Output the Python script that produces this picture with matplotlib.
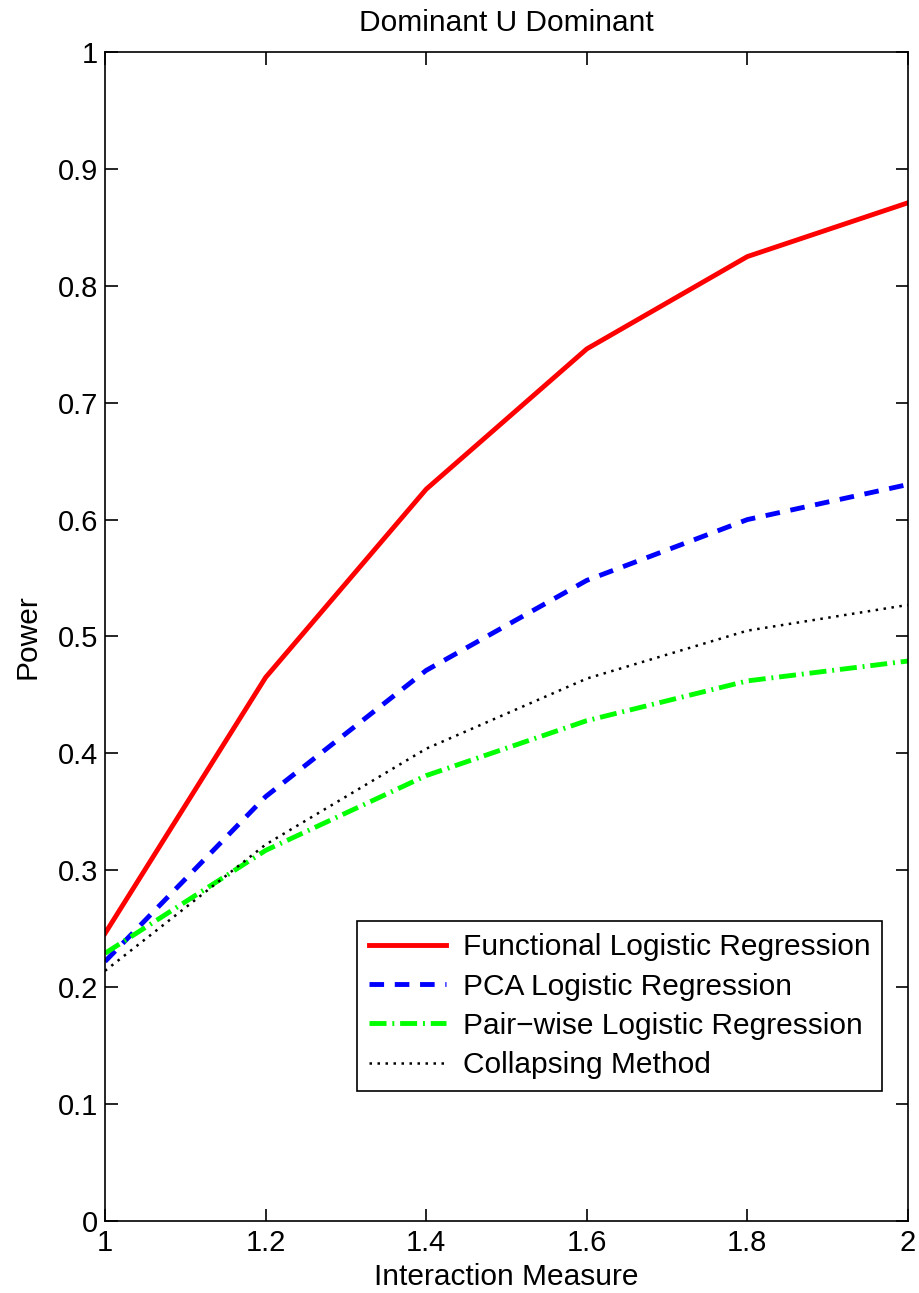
import matplotlib.pyplot as plt
import numpy as np

plt.rcParams['font.family'] = ['Liberation Sans', 'DejaVu Sans']

# DATA
interaction = [1.0, 1.2, 1.4, 1.6, 1.8, 2.0]
functional = [0.246, 0.465, 0.626, 0.746, 0.825, 0.871]
pca = [0.222, 0.363, 0.471, 0.548, 0.600, 0.630]
pairwise = [0.229, 0.317, 0.381, 0.428, 0.462, 0.479]
collapsing = [0.214, 0.322, 0.404, 0.464, 0.505, 0.527]

fig = plt.figure(figsize=(9.19, 12.93), dpi=100)
ax = fig.add_axes([0.1143, 0.0557, 0.8737, 0.9041])

ax.plot(interaction, functional, color='#ff0000', lw=3.5, ls='-', label='Functional Logistic Regression')
ax.plot(interaction, pca, color='#0000ff', lw=3.5, ls=(0, (3, 2.2)), label='PCA Logistic Regression')
ax.plot(interaction, pairwise, color='#00ff00', lw=3.5, ls=(0, (3.5, 1.2, 0.4, 1.2)), label='Pair\u2212wise Logistic Regression')
ax.plot(interaction, collapsing, color='black', lw=1.8, ls=(0, (1, 2.2)), label='Collapsing Method')

ax.set_xlim(1, 2)
ax.set_ylim(0, 1)
ax.set_xticks([1, 1.2, 1.4, 1.6, 1.8, 2])
ax.set_xticklabels(['1', '1.2', '1.4', '1.6', '1.8', '2'])
ax.set_yticks(np.arange(0, 1.01, 0.1))
ax.set_yticklabels(['0', '0.1', '0.2', '0.3', '0.4', '0.5', '0.6', '0.7', '0.8', '0.9', '1'])
ax.tick_params(direction='in', length=9, width=1.2, labelsize=21, top=True, right=True)
ax.tick_params(axis='x', pad=6)
ax.tick_params(axis='y', pad=5)
for s in ax.spines.values():
    s.set_linewidth(1.2)

ax.set_xlabel('Interaction Measure', fontsize=21.5, labelpad=4)
ax.set_ylabel('Power', fontsize=21.5, labelpad=12)
ax.set_title('Dominant U Dominant', fontsize=21.5, pad=15)

leg = ax.legend(loc='lower right', bbox_to_anchor=(0.968, 0.111), fontsize=21.5, frameon=True,
                fancybox=False, edgecolor='black', framealpha=1, handlelength=2.6,
                borderpad=0.4, labelspacing=0.38, handletextpad=0.55, borderaxespad=0)
leg.get_frame().set_linewidth(1.2)

fig.savefig('out.png', dpi=100)
